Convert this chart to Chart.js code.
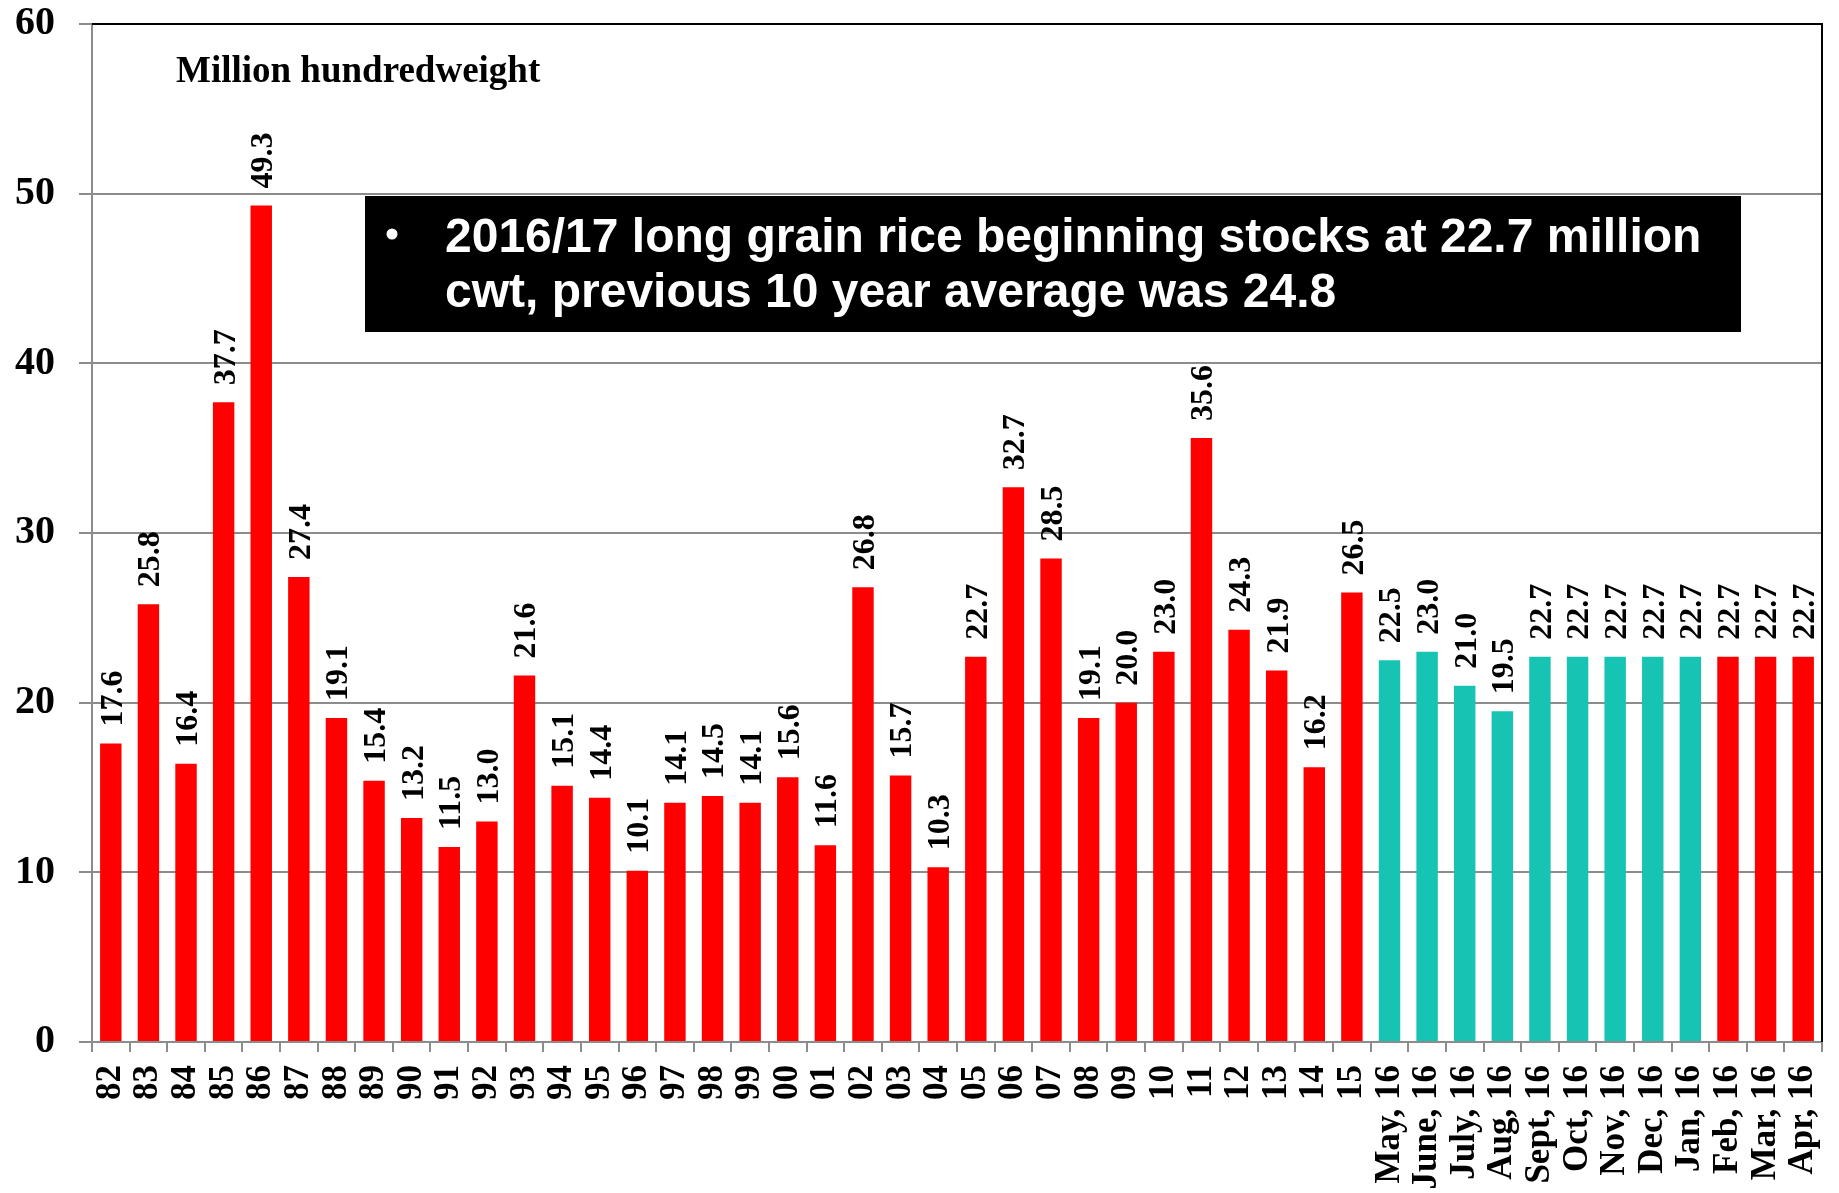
<!DOCTYPE html>
<html>
<head>
<meta charset="utf-8">
<script src="https://cdn.jsdelivr.net/npm/chart.js@4/dist/chart.umd.min.js"></script>
<style>
  html, body { margin: 0; padding: 0; background: #fff; }
  #wrap { width: 1839px; height: 1193px; position: relative; }
</style>
</head>
<body>
<div id="wrap"><canvas id="chart"></canvas></div>
<script>
// Long grain rice beginning stocks, million cwt
const YEARS = ['82','83','84','85','86','87','88','89','90','91','92','93','94','95','96','97','98','99',
  '00','01','02','03','04','05','06','07','08','09','10','11','12','13','14','15'];
const YEAR_VALUES = [17.6, 25.8, 16.4, 37.7, 49.3, 27.4, 19.1, 15.4, 13.2, 11.5, 13.0, 21.6, 15.1, 14.4, 10.1, 14.1, 14.5, 14.1,
  15.6, 11.6, 26.8, 15.7, 10.3, 22.7, 32.7, 28.5, 19.1, 20.0, 23.0, 35.6, 24.3, 21.9, 16.2, 26.5];

// monthly WASDE estimates for 2016/17
const MONTHS = ['May, 16','June, 16','July, 16','Aug, 16','Sept, 16','Oct, 16','Nov, 16','Dec, 16','Jan, 16','Feb, 16','Mar, 16','Apr, 16'];
const MONTH_VALUES = [22.5, 23.0, 21.0, 19.5, 22.7, 22.7, 22.7, 22.7, 22.7, 22.7, 22.7, 22.7];
const EARLY_MONTHS = 9; // May..Jan shown in teal

const Y_TICKS = [0, 10, 20, 30, 40, 50, 60];
const UNIT_LABEL = 'Million hundredweight';
const NOTE_LINES = ['2016/17 long grain rice beginning stocks at 22.7 million', 'cwt, previous 10 year average was 24.8'];

const LABELS = YEARS.concat(MONTHS);
const VALUES = YEAR_VALUES.concat(MONTH_VALUES);

const RED = '#ff0000';
const TEAL = '#17c3b2';
const GRID = '#8c8c8c';
const SERIF = '"Liberation Serif", "Times New Roman", serif';
const SANS = '"Liberation Sans", Arial, sans-serif';

const barColors = VALUES.map((v, i) =>
  (i >= YEARS.length && i < YEARS.length + EARLY_MONTHS) ? TEAL : RED);

// values written vertically above each bar
const valueLabels = {
  id: 'valueLabels',
  afterDatasetsDraw(chart) {
    const ctx = chart.ctx;
    const meta = chart.getDatasetMeta(0);
    const fs = 32;
    ctx.save();
    ctx.font = `bold ${fs}px ${SERIF}`;
    ctx.fillStyle = '#000';
    ctx.textAlign = 'left';
    ctx.textBaseline = 'alphabetic';
    meta.data.forEach((bar, i) => {
      ctx.save();
      ctx.translate(bar.x + fs * 0.34, bar.y - 17);
      ctx.rotate(-Math.PI / 2);
      ctx.fillText(VALUES[i].toFixed(1), 0, 0);
      ctx.restore();
    });
    ctx.restore();
  }
};

// frame, unit label and the black note box
const decorations = {
  id: 'decorations',
  afterDraw(chart) {
    const ctx = chart.ctx;
    const a = chart.chartArea;
    ctx.save();

    ctx.strokeStyle = '#000';
    ctx.lineWidth = 2;
    ctx.beginPath();
    ctx.moveTo(a.left, a.top);
    ctx.lineTo(a.right, a.top);
    ctx.lineTo(a.right, a.bottom);
    ctx.stroke();

    ctx.fillStyle = '#000';
    ctx.font = `bold 37px ${SERIF}`;
    ctx.textAlign = 'left';
    ctx.textBaseline = 'alphabetic';
    ctx.fillText(UNIT_LABEL, a.left + 84, a.top + 58);

    const bx = a.left + 273, by = a.top + 172, bw = 1376, bh = 136;
    ctx.fillStyle = '#000';
    ctx.fillRect(bx, by, bw, bh);

    ctx.fillStyle = '#fff';
    ctx.beginPath();
    ctx.arc(bx + 27, by + 38, 5.5, 0, Math.PI * 2);
    ctx.fill();
    ctx.font = `bold 48px ${SANS}`;
    ctx.fillText(NOTE_LINES[0], bx + 80, by + 56);
    ctx.fillText(NOTE_LINES[1], bx + 80, by + 111);

    ctx.restore();
  }
};

new Chart(document.getElementById('chart'), {
  type: 'bar',
  data: {
    labels: LABELS,
    datasets: [{
      data: VALUES,
      backgroundColor: barColors,
      borderWidth: 0,
      barPercentage: 0.57,
      categoryPercentage: 1.0,
    }],
  },
  options: {
    responsive: true, maintainAspectRatio: false,
    animation: false,
    layout: { padding: { top: 24, right: 17, left: 0, bottom: 0 } },
    plugins: { legend: { display: false }, tooltip: { enabled: false }, title: { display: false } },
    scales: {
      x: {
        grid: { drawOnChartArea: false, drawTicks: true, tickLength: 10, color: GRID, lineWidth: 2, offset: true },
        border: { color: GRID, width: 2 },
        ticks: {
          autoSkip: false, maxRotation: 90, minRotation: 90, padding: 13,
          color: '#000', font: { family: SERIF, size: 35, weight: 'bold' },
        },
        afterFit: s => { s.height = 151; s.paddingLeft = 0; s.paddingRight = 0; },
      },
      y: {
        min: Y_TICKS[0], max: Y_TICKS[Y_TICKS.length - 1],
        afterBuildTicks: s => { s.ticks = Y_TICKS.map(v => ({ value: v })); },
        grid: { color: GRID, lineWidth: 2, tickLength: 13 },
        border: { color: GRID, width: 2 },
        ticks: { padding: 24, color: '#000', font: { family: SERIF, size: 40, weight: 'bold' } },
        afterFit: s => { s.width = 92; s.paddingTop = 0; s.paddingBottom = 0; },
      },
    },
  },
  plugins: [valueLabels, decorations],
});
</script>
</body>
</html>
